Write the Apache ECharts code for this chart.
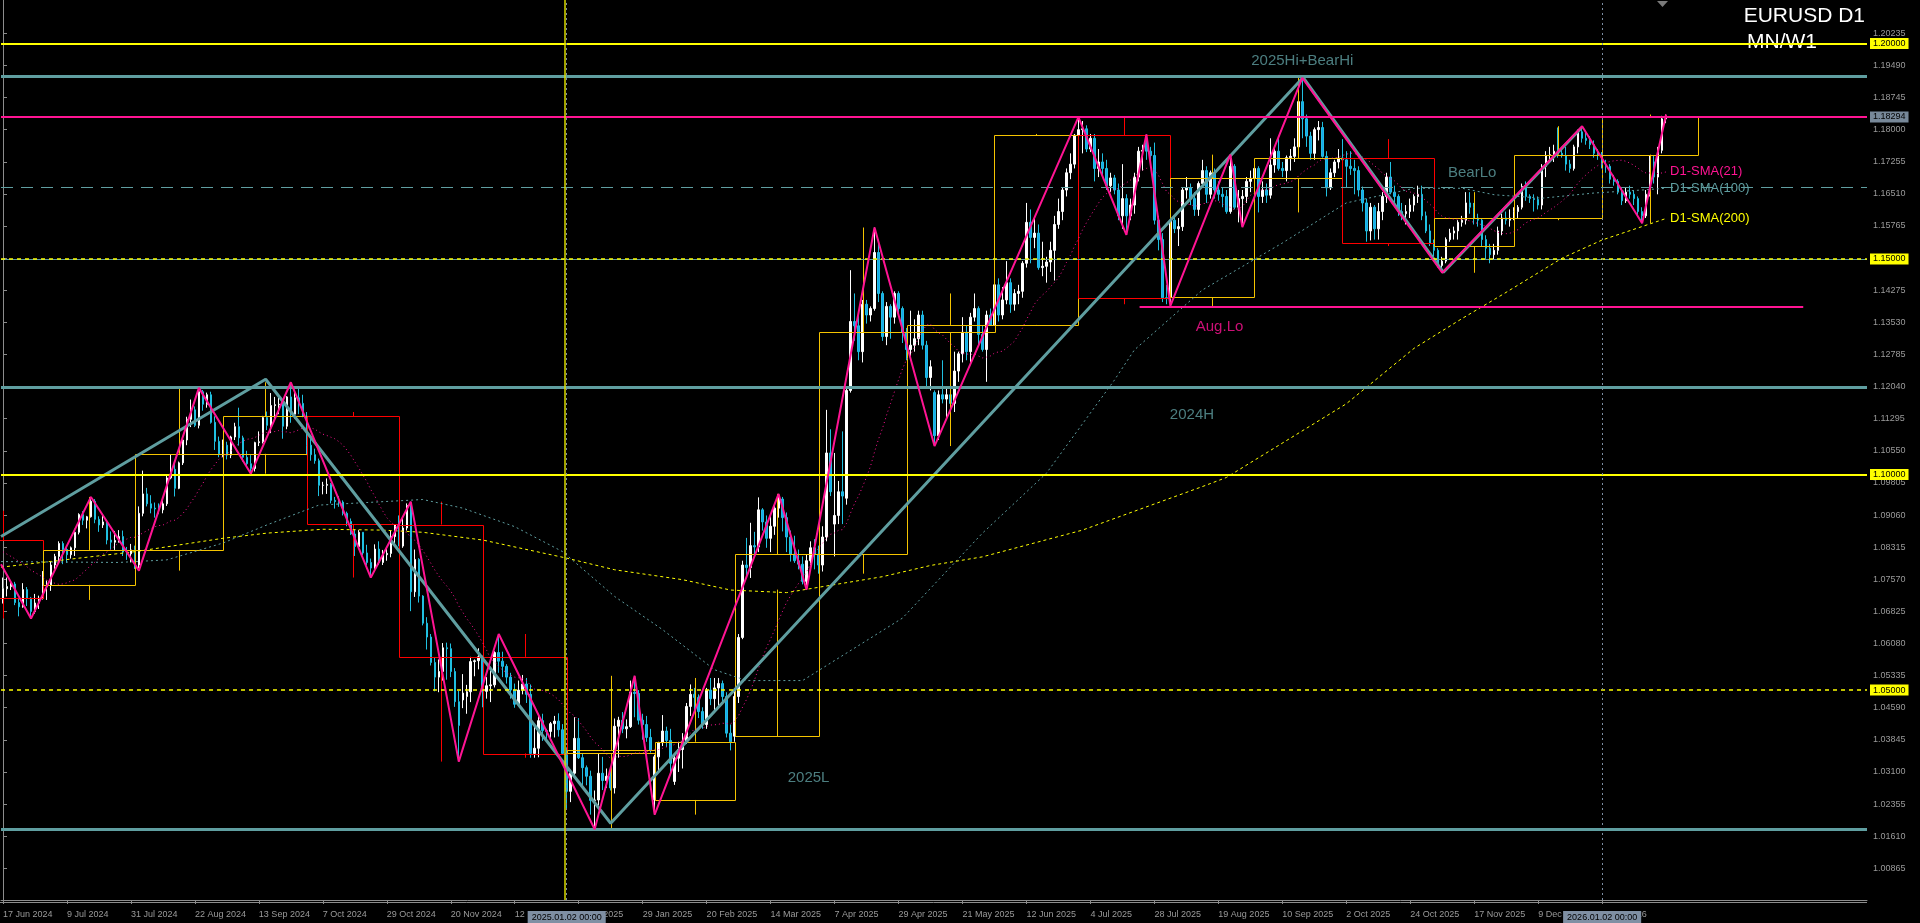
<!DOCTYPE html>
<html><head><meta charset="utf-8">
<script src="https://cdn.jsdelivr.net/npm/echarts@6/dist/echarts.min.js"></script>
<style>html,body{margin:0;padding:0;background:#000;}#c{width:1920px;height:923px;}</style>
</head><body><div id="c"></div><script>
// ---------- DATA ----------
// price-axis tick labels
const yTicks = [1.00865,1.01610,1.02355,1.03100,1.03845,1.04590,1.05335,1.06080,1.06825,1.07570,1.08315,1.09060,1.09805,1.10550,1.11295,1.12040,1.12785,1.13530,1.14275,1.15020,1.15765,1.16510,1.17255,1.18000,1.18745,1.19490,1.20235];
// time-axis tick positions (bar index) and labels
const xTickIdx = [0,16,32,48,64,80,96,112,128,144,160,176,192,208,224,240,256,272,288,304,320,336,352,368,384,400];
const xTickLabels = ['17 Jun 2024','9 Jul 2024','31 Jul 2024','22 Aug 2024','13 Sep 2024','7 Oct 2024','29 Oct 2024','20 Nov 2024','12 Dec 2024','7 Jan 2025','29 Jan 2025','20 Feb 2025','14 Mar 2025','7 Apr 2025','29 Apr 2025','21 May 2025','12 Jun 2025','4 Jul 2025','28 Jul 2025','19 Aug 2025','10 Sep 2025','2 Oct 2025','24 Oct 2025','17 Nov 2025','9 Dec 2025','2 Jan 2026'];
// closes of the 20 days before the first visible bar (for SMA21)
const closesBefore = [1.0856,1.0855,1.0822,1.0819,1.0847,1.0857,1.0858,1.0801,1.0832,1.0848,1.0902,1.0875,1.0870,1.0893,1.0801,1.0765,1.0740,1.0815,1.0741,1.0702];
// daily bars [open, high, low, close], first bar = 17 Jun 2024
const candles = [
[1.0702,1.0761,1.0701,1.0735],[1.0735,1.0761,1.0717,1.0740],[1.0740,1.0752,1.0732,1.0746],[1.0746,1.0751,1.0697,1.0703],[1.0703,1.0713,1.0671,1.0693],
[1.0693,1.0748,1.0691,1.0733],[1.0733,1.0739,1.0695,1.0713],[1.0713,1.0716,1.0666,1.0682],[1.0682,1.0723,1.0677,1.0702],[1.0702,1.0719,1.0688,1.0713],
[1.0713,1.0776,1.0710,1.0740],[1.0740,1.0754,1.0709,1.0744],[1.0744,1.0797,1.0730,1.0790],[1.0790,1.0816,1.0781,1.0810],[1.0810,1.0845,1.0797,1.0840],
[1.0840,1.0845,1.0792,1.0826],[1.0826,1.0830,1.0795,1.0814],[1.0814,1.0833,1.0805,1.0830],[1.0830,1.0874,1.0811,1.0866],[1.0866,1.0910,1.0861,1.0907],
[1.0907,1.0915,1.0883,1.0894],[1.0894,1.0904,1.0875,1.0902],[1.0902,1.0948,1.0900,1.0938],[1.0938,1.0943,1.0887,1.0896],[1.0896,1.0903,1.0867,1.0883],
[1.0883,1.0906,1.0876,1.0890],[1.0890,1.0891,1.0838,1.0848],[1.0848,1.0868,1.0826,1.0843],[1.0843,1.0869,1.0825,1.0847],[1.0847,1.0871,1.0842,1.0856],
[1.0856,1.0870,1.0811,1.0820],[1.0820,1.0832,1.0802,1.0816],[1.0816,1.0839,1.0796,1.0825],
[1.0825,1.0835,1.0781,1.0790],[1.0790,1.0926,1.0777,1.0910],
[1.0910,1.1009,1.0903,1.0955],[1.0955,1.0969,1.0926,1.0932],[1.0932,1.0952,1.0910,1.0922],[1.0922,1.0935,1.0900,1.0920],[1.0920,1.0933,1.0908,1.0918],
[1.0918,1.0944,1.0910,1.0932],[1.0932,1.0998,1.0927,1.0992],[1.0992,1.1047,1.0989,1.1012],[1.1012,1.1030,1.0949,1.0968],[1.0968,1.1030,1.0966,1.1027],
[1.1027,1.1085,1.1022,1.1080],[1.1080,1.1134,1.1068,1.1128],[1.1128,1.1174,1.1110,1.1150],[1.1150,1.1158,1.1110,1.1114],[1.1114,1.1201,1.1107,1.1192],
[1.1192,1.1196,1.1148,1.1163],[1.1163,1.1190,1.1155,1.1185],[1.1185,1.1192,1.1118,1.1121],[1.1121,1.1135,1.1057,1.1077],[1.1077,1.1088,1.1040,1.1048],
[1.1048,1.1081,1.1040,1.1068],[1.1068,1.1076,1.1035,1.1045],[1.1045,1.1090,1.1038,1.1087],[1.1087,1.1120,1.1080,1.1111],[1.1111,1.1155,1.1067,1.1085],
[1.1085,1.1090,1.1030,1.1040],[1.1040,1.1055,1.1018,1.1025],[1.1025,1.1045,1.1002,1.1014],[1.1014,1.1076,1.1007,1.1074],[1.1074,1.1100,1.1066,1.1076],
[1.1076,1.1136,1.1072,1.1132],[1.1132,1.1146,1.1103,1.1114],[1.1114,1.1189,1.1096,1.1160],[1.1160,1.1180,1.1128,1.1162],[1.1162,1.1178,1.1140,1.1163],
[1.1163,1.1167,1.1083,1.1112],[1.1112,1.1182,1.1105,1.1180],[1.1180,1.1214,1.1120,1.1140],[1.1140,1.1190,1.1130,1.1178],[1.1178,1.1200,1.1140,1.1165],
[1.1165,1.1185,1.1133,1.1135],
[1.1135,1.1145,1.1045,1.1068],[1.1068,1.1083,1.1032,1.1046],[1.1046,1.1060,1.1025,1.1032],[1.1032,1.1037,1.0950,1.0975],
[1.0975,1.0983,1.0954,1.0975],[1.0975,1.0991,1.0955,1.0977],[1.0977,1.0980,1.0933,1.0940],[1.0940,1.0948,1.0921,1.0937],[1.0937,1.0950,1.0925,1.0936],
[1.0936,1.0940,1.0905,1.0910],[1.0910,1.0914,1.0880,1.0891],[1.0891,1.0898,1.0860,1.0862],[1.0862,1.0873,1.0811,1.0833],[1.0833,1.0871,1.0830,1.0866],
[1.0866,1.0866,1.0813,1.0818],[1.0818,1.0837,1.0790,1.0796],[1.0796,1.0805,1.0761,1.0783],[1.0783,1.0838,1.0780,1.0827],[1.0827,1.0845,1.0790,1.0796],
[1.0796,1.0825,1.0790,1.0814],[1.0814,1.0830,1.0800,1.0817],[1.0817,1.0869,1.0808,1.0856],[1.0856,1.0885,1.0840,1.0884],
[1.0884,1.0905,1.0834,1.0834],
[1.0834,1.0902,1.0830,1.0876],[1.0876,1.0933,1.0870,1.0928],[1.0928,1.0937,1.0683,1.0728],[1.0728,1.0826,1.0716,1.0803],[1.0803,1.0806,1.0703,1.0718],
[1.0718,1.0720,1.0650,1.0655],[1.0655,1.0669,1.0594,1.0623],[1.0623,1.0630,1.0557,1.0564],[1.0564,1.0575,1.0497,1.0530],[1.0530,1.0571,1.0495,1.0543],
[1.0543,1.0609,1.0522,1.0598],[1.0598,1.0610,1.0524,1.0596],[1.0596,1.0608,1.0530,1.0543],[1.0543,1.0551,1.0461,1.0473],[1.0473,1.0498,1.0334,1.0418],
[1.0477,1.0537,1.0458,1.0493],[1.0485,1.0512,1.0445,1.0496],[1.0496,1.0577,1.0472,1.0566],[1.0566,1.0571,1.0532,1.0568],[1.0568,1.0597,1.0548,1.0577],
[1.0577,1.0580,1.0460,1.0497],[1.0497,1.0530,1.0480,1.0510],[1.0510,1.0545,1.0472,1.0512],[1.0512,1.0590,1.0506,1.0587],[1.0587,1.0630,1.0540,1.0567],
[1.0567,1.0589,1.0530,1.0555],[1.0555,1.0560,1.0515,1.0530],[1.0530,1.0540,1.0480,1.0500],[1.0500,1.0515,1.0459,1.0467],[1.0467,1.0522,1.0465,1.0500],
[1.0500,1.0535,1.0490,1.0514],[1.0514,1.0528,1.0470,1.0490],[1.0490,1.0513,1.0343,1.0353],[1.0353,1.0420,1.0343,1.0365],[1.0365,1.0440,1.0344,1.0429],
[1.0429,1.0445,1.0382,1.0406],[1.0406,1.0410,1.0380,1.0404],[1.0404,1.0426,1.0386,1.0422],[1.0422,1.0440,1.0390,1.0428],
[1.0428,1.0446,1.0392,1.0408],[1.0408,1.0421,1.0352,1.0353],
[1.0353,1.0367,1.0225,1.0265],[1.0265,1.0315,1.0240,1.0307],
[1.0307,1.0437,1.0302,1.0388],[1.0388,1.0435,1.0340,1.0343],[1.0343,1.0353,1.0272,1.0320],[1.0320,1.0325,1.0279,1.0300],[1.0300,1.0313,1.0211,1.0244],
[1.0244,1.0267,1.0177,1.0245],[1.0245,1.0353,1.0232,1.0307],[1.0307,1.0345,1.0268,1.0290],[1.0290,1.0318,1.0273,1.0300],[1.0300,1.0318,1.0267,1.0273],
[1.0273,1.0434,1.0260,1.0416],[1.0416,1.0438,1.0343,1.0430],[1.0430,1.0449,1.0400,1.0410],[1.0410,1.0432,1.0388,1.0415],[1.0415,1.0522,1.0412,1.0495],
[1.0495,1.0533,1.0437,1.0492],[1.0492,1.0500,1.0420,1.0430],[1.0430,1.0445,1.0385,1.0420],[1.0420,1.0440,1.0380,1.0390],[1.0390,1.0410,1.0355,1.0360],
[1.0245,1.0350,1.0211,1.0345],[1.0345,1.0380,1.0310,1.0378],[1.0378,1.0442,1.0370,1.0405],[1.0405,1.0415,1.0368,1.0383],[1.0383,1.0410,1.0305,1.0330],
[1.0288,1.0352,1.0280,1.0342],[1.0342,1.0380,1.0310,1.0362],[1.0362,1.0400,1.0318,1.0380],[1.0380,1.0470,1.0375,1.0462],[1.0462,1.0513,1.0440,1.0490],
[1.0490,1.0505,1.0450,1.0483],[1.0483,1.0490,1.0435,1.0450],[1.0450,1.0460,1.0410,1.0420],[1.0420,1.0505,1.0410,1.0500],[1.0500,1.0528,1.0465,1.0480],
[1.0480,1.0528,1.0450,1.0505],[1.0505,1.0528,1.0460,1.0515],[1.0515,1.0522,1.0470,1.0485],[1.0485,1.0495,1.0390,1.0400],[1.0400,1.0420,1.0360,1.0380],
[1.0393,1.0498,1.0380,1.0485],[1.0485,1.0630,1.0470,1.0622],[1.0622,1.0800,1.0618,1.0790],[1.0790,1.0853,1.0762,1.0784],[1.0784,1.0888,1.0760,1.0835],
[1.0835,1.0867,1.0811,1.0832],[1.0832,1.0947,1.0820,1.0918],[1.0918,1.0922,1.0870,1.0890],[1.0890,1.0905,1.0830,1.0852],[1.0852,1.0905,1.0820,1.0880],
[1.0880,1.0930,1.0860,1.0922],[1.0922,1.0955,1.0900,1.0943],[1.0943,1.0948,1.0868,1.0900],[1.0900,1.0912,1.0820,1.0855],[1.0855,1.0870,1.0798,1.0815],
[1.0815,1.0858,1.0795,1.0800],[1.0800,1.0826,1.0780,1.0792],[1.0792,1.0810,1.0745,1.0752],[1.0752,1.0815,1.0733,1.0800],[1.0800,1.0845,1.0790,1.0830],
[1.0830,1.0850,1.0780,1.0815],
[1.0815,1.0835,1.0770,1.0790],[1.0790,1.0880,1.0775,1.0855],[1.0855,1.1150,1.0845,1.1050],[1.1050,1.1105,1.0950,1.0960],
[1.0885,1.1050,1.0810,1.0905],[1.0905,1.0985,1.0885,1.0960],[1.0960,1.1100,1.0885,1.0950],[1.0945,1.1200,1.0930,1.1195],[1.1195,1.1474,1.1190,1.1355],
[1.1355,1.1420,1.1310,1.1345],[1.1345,1.1380,1.1265,1.1285],[1.1285,1.1405,1.1260,1.1395],[1.1395,1.1405,1.1350,1.1370],[1.1370,1.1390,1.1355,1.1385],
[1.1385,1.1573,1.1380,1.1515],[1.1515,1.1545,1.1400,1.1420],[1.1420,1.1425,1.1310,1.1320],[1.1320,1.1400,1.1300,1.1390],[1.1390,1.1395,1.1315,1.1365],
[1.1365,1.1425,1.1350,1.1420],[1.1420,1.1425,1.1375,1.1385],[1.1385,1.1390,1.1305,1.1330],
[1.1330,1.1340,1.1265,1.1290],[1.1290,1.1380,1.1275,1.1300],
[1.1300,1.1360,1.1285,1.1315],[1.1315,1.1380,1.1300,1.1370],[1.1370,1.1380,1.1290,1.1300],[1.1300,1.1310,1.1200,1.1225],[1.1225,1.1265,1.1195,1.1250],
[1.1190,1.1195,1.1066,1.1090],[1.1090,1.1195,1.1080,1.1185],[1.1185,1.1265,1.1165,1.1175],[1.1175,1.1205,1.1130,1.1185],[1.1185,1.1228,1.1130,1.1165],
[1.1165,1.1285,1.1145,1.1240],[1.1240,1.1285,1.1215,1.1280],[1.1280,1.1365,1.1260,1.1330],[1.1330,1.1345,1.1265,1.1285],[1.1285,1.1375,1.1260,1.1365],
[1.1365,1.1420,1.1355,1.1385],[1.1385,1.1390,1.1300,1.1325],[1.1325,1.1345,1.1285,1.1290],[1.1290,1.1380,1.1215,1.1370],[1.1370,1.1385,1.1345,1.1347],
[1.1347,1.1455,1.1345,1.1440],[1.1440,1.1455,1.1355,1.1370],[1.1370,1.1435,1.1360,1.1405],[1.1405,1.1495,1.1395,1.1445],[1.1445,1.1455,1.1375,1.1395],
[1.1395,1.1430,1.1380,1.1420],[1.1420,1.1440,1.1395,1.1425],[1.1425,1.1495,1.1410,1.1490],[1.1490,1.1630,1.1480,1.1585],[1.1585,1.1615,1.1490,1.1550],
[1.1550,1.1595,1.1525,1.1560],[1.1560,1.1580,1.1475,1.1480],[1.1480,1.1540,1.1460,1.1483],[1.1483,1.1505,1.1445,1.1493],[1.1493,1.1540,1.1470,1.1520],
[1.1520,1.1600,1.1450,1.1580],[1.1580,1.1640,1.1570,1.1610],[1.1610,1.1665,1.1590,1.1660],[1.1660,1.1710,1.1645,1.1700],[1.1700,1.1745,1.1685,1.1720],
[1.1720,1.1790,1.1710,1.1787],
[1.1787,1.1829,1.1765,1.1800],[1.1800,1.1820,1.1745,1.1802],[1.1802,1.1810,1.1748,1.1755],[1.1755,1.1790,1.1748,1.1780],
[1.1780,1.1790,1.1680,1.1710],[1.1710,1.1755,1.1690,1.1725],[1.1725,1.1745,1.1690,1.1710],[1.1710,1.1730,1.1660,1.1670],[1.1670,1.1700,1.1655,1.1688],
[1.1688,1.1695,1.1650,1.1660],[1.1660,1.1675,1.1590,1.1600],[1.1600,1.1720,1.1570,1.1640],[1.1640,1.1650,1.1556,1.1600],[1.1600,1.1640,1.1590,1.1625],
[1.1625,1.1700,1.1605,1.1690],[1.1690,1.1760,1.1680,1.1750],[1.1750,1.1765,1.1705,1.1752],[1.1770,1.1789,1.1730,1.1750],[1.1750,1.1760,1.1715,1.1740],
[1.1740,1.1770,1.1580,1.1590],[1.1590,1.1600,1.1520,1.1545],[1.1545,1.1560,1.1400,1.1410],[1.1410,1.1440,1.1395,1.1409],
[1.1411,1.1598,1.1391,1.1590],
[1.1590,1.1598,1.1560,1.1570],[1.1570,1.1595,1.1530,1.1575],[1.1575,1.1665,1.1565,1.1660],[1.1660,1.1690,1.1640,1.1665],[1.1665,1.1675,1.1625,1.1640],
[1.1640,1.1655,1.1600,1.1615],[1.1615,1.1680,1.1600,1.1675],[1.1675,1.1730,1.1665,1.1705],[1.1705,1.1715,1.1630,1.1650],[1.1650,1.1705,1.1640,1.1700],
[1.1700,1.1710,1.1640,1.1660],[1.1660,1.1680,1.1635,1.1650],[1.1650,1.1665,1.1620,1.1645],[1.1645,1.1660,1.1605,1.1610],[1.1610,1.1742,1.1605,1.1715],
[1.1715,1.1720,1.1615,1.1620],[1.1620,1.1660,1.1585,1.1640],[1.1640,1.1660,1.1574,1.1645],[1.1645,1.1690,1.1630,1.1680],[1.1680,1.1705,1.1655,1.1687],
[1.1687,1.1720,1.1680,1.1710],[1.1710,1.1715,1.1608,1.1645],[1.1645,1.1680,1.1630,1.1660],[1.1660,1.1675,1.1630,1.1648],[1.1648,1.1780,1.1640,1.1718],
[1.1718,1.1760,1.1700,1.1750],[1.1750,1.1785,1.1705,1.1710],[1.1710,1.1725,1.1690,1.1705],[1.1705,1.1740,1.1680,1.1735],[1.1735,1.1755,1.1705,1.1738],
[1.1738,1.1780,1.1725,1.1760],[1.1760,1.1878,1.1755,1.1865],[1.1865,1.1920,1.1780,1.1825],[1.1825,1.1835,1.1760,1.1785],[1.1785,1.1795,1.1730,1.1745],
[1.1745,1.1805,1.1730,1.1800],[1.1800,1.1820,1.1775,1.1805],[1.1805,1.1818,1.1735,1.1738],[1.1738,1.1750,1.1645,1.1665],[1.1665,1.1710,1.1660,1.1700],
[1.1700,1.1730,1.1690,1.1725],[1.1725,1.1755,1.1710,1.1734],
[1.1734,1.1778,1.1710,1.1730],[1.1730,1.1750,1.1665,1.1715],[1.1715,1.1750,1.1695,1.1710],
[1.1710,1.1730,1.1650,1.1705],[1.1705,1.1715,1.1645,1.1660],[1.1660,1.1668,1.1610,1.1630],[1.1630,1.1640,1.1540,1.1565],[1.1565,1.1630,1.1543,1.1620],
[1.1620,1.1625,1.1545,1.1570],[1.1570,1.1630,1.1545,1.1610],[1.1610,1.1655,1.1590,1.1645],[1.1645,1.1700,1.1630,1.1690],[1.1690,1.1725,1.1650,1.1655],
[1.1655,1.1670,1.1630,1.1645],[1.1645,1.1650,1.1600,1.1610],[1.1610,1.1630,1.1590,1.1605],[1.1605,1.1625,1.1580,1.1610],[1.1610,1.1640,1.1595,1.1625],
[1.1625,1.1650,1.1610,1.1645],[1.1645,1.1670,1.1630,1.1650],[1.1650,1.1670,1.1590,1.1600],[1.1600,1.1610,1.1560,1.1565],[1.1565,1.1580,1.1530,1.1536],
[1.1530,1.1545,1.1505,1.1520],[1.1520,1.1525,1.1480,1.1485],[1.1485,1.1505,1.1468,1.1495],[1.1495,1.1550,1.1490,1.1545],[1.1545,1.1570,1.1540,1.1560],
[1.1560,1.1575,1.1545,1.1565],[1.1565,1.1590,1.1545,1.1585],[1.1585,1.1600,1.1575,1.1590],[1.1590,1.1655,1.1580,1.1630],[1.1630,1.1655,1.1605,1.1620],
[1.1620,1.1630,1.1580,1.1595],[1.1595,1.1605,1.1575,1.1590],[1.1590,1.1595,1.1530,1.1545],[1.1545,1.1555,1.1500,1.1525],[1.1525,1.1535,1.1490,1.1510],
[1.1510,1.1535,1.1500,1.1520],[1.1520,1.1575,1.1510,1.1565],[1.1565,1.1605,1.1555,1.1595],[1.1595,1.1610,1.1580,1.1590],[1.1590,1.1615,1.1575,1.1595],
[1.1595,1.1620,1.1590,1.1610],[1.1610,1.1625,1.1595,1.1620],[1.1620,1.1675,1.1615,1.1668],[1.1668,1.1680,1.1635,1.1645],[1.1645,1.1650,1.1630,1.1640],
[1.1640,1.1650,1.1610,1.1638],[1.1638,1.1645,1.1615,1.1625],[1.1625,1.1720,1.1615,1.1715],[1.1715,1.1750,1.1690,1.1740],[1.1740,1.1760,1.1725,1.1742],
[1.1742,1.1765,1.1725,1.1750],[1.1750,1.1805,1.1735,1.1745],[1.1745,1.1760,1.1735,1.1740],[1.1740,1.1760,1.1705,1.1720],[1.1720,1.1730,1.1700,1.1710],
[1.1710,1.1765,1.1705,1.1760],[1.1760,1.1800,1.1745,1.1795],[1.1795,1.1808,1.1770,1.1780],[1.1780,1.1795,1.1765,1.1775],
[1.1775,1.1785,1.1755,1.1765],[1.1765,1.1775,1.1735,1.1745],[1.1745,1.1755,1.1730,1.1742],
[1.1742,1.1748,1.1710,1.1718],
[1.1718,1.1730,1.1700,1.1715],[1.1715,1.1720,1.1675,1.1685],[1.1685,1.1695,1.1670,1.1680],[1.1680,1.1685,1.1650,1.1655],[1.1655,1.1665,1.1625,1.1635],
[1.1635,1.1665,1.1630,1.1655],[1.1655,1.1670,1.1640,1.1650],[1.1650,1.1660,1.1625,1.1640],[1.1640,1.1645,1.1600,1.1610],[1.1610,1.1620,1.1583,1.1600],
[1.1600,1.1660,1.1595,1.1650],[1.1650,1.1740,1.1645,1.1725],[1.1725,1.1740,1.1675,1.1690],[1.1690,1.1760,1.1650,1.1752],[1.1752,1.1832,1.1745,1.1825],
[1.1825,1.1835,1.1815,1.18294]
];
// monthly bars [startBar, endBar, open, high, low, close]
const months = [
[-10,10,1.0848,1.0916,1.0666,1.0713],[10,33,1.0744,1.0948,1.0709,1.0825],[33,55,1.0825,1.1201,1.0777,1.1048],
[55,76,1.1048,1.1214,1.1002,1.1135],[76,99,1.1135,1.1145,1.0761,1.0884],[99,120,1.0884,1.0937,1.0334,1.0577],
[120,141,1.0577,1.0630,1.0343,1.0353],[141,163,1.0353,1.0533,1.0177,1.0360],[163,183,1.0245,1.0528,1.0211,1.0380],
[183,204,1.0393,1.0955,1.0733,1.0815],[204,226,1.0815,1.1573,1.0770,1.1330],[226,248,1.1330,1.1420,1.1066,1.1347],
[248,269,1.1347,1.1790,1.1345,1.1787],[269,292,1.1787,1.1829,1.1395,1.1409],[292,313,1.1411,1.1742,1.1391,1.1687],
[313,335,1.1687,1.1920,1.1608,1.1734],[335,358,1.1734,1.1778,1.1530,1.1536],[358,378,1.1530,1.1655,1.1468,1.1595],
[378,400,1.1595,1.1808,1.1590,1.1742],[400,424,1.1742,1.1835,1.1583,1.18294]
];
// moving averages [bar, value]
const sma100 = [[-0.5,1.0798],[29,1.0796],[41,1.0802],[55,1.0841],[66,1.0883],[79,1.0929],[91,1.0935],[105,1.0942],[115,1.0922],[128,1.0879],[140,1.0821],[153,1.0717],[165,1.0640],[178,1.0547],[186,1.0522],[200,1.0522],[225,1.0667],[245,1.0864],[261,1.1003],[278,1.1219],[283,1.1289],[300,1.1428],[320,1.1537],[336,1.1630],[353,1.1664],[365,1.1664],[373,1.1649],[385,1.1641],[398,1.1653],[410,1.1660],[416,1.1664]];
const sma200 = [[-0.5,1.0785],[33,1.0821],[55,1.0852],[66,1.0864],[80,1.0873],[95,1.0871],[105,1.0866],[120,1.0848],[141,1.0806],[153,1.0779],[170,1.0756],[182,1.0732],[196,1.0726],[220,1.0763],[232,1.0789],[245,1.0809],[270,1.0871],[300,1.0972],[306,1.0993],[336,1.1164],[353,1.1293],[365,1.1362],[375,1.1417],[390,1.1502],[400,1.1544],[416,1.1594]];
// zigzags [bar, price]
const zigzagMinor = [[-0.5,1.0792],[7,1.0666],[22,1.0948],[34,1.0777],[49,1.1201],[62,1.1002],[72,1.1214],[92,1.0761],[102,1.0937],[114,1.0334],[124,1.0630],[148,1.0177],[158,1.0533],[163,1.0211],[194,1.0955],[201,1.0733],[218,1.1573],[233,1.1066],[269,1.1829],[281,1.1556],[286,1.1789],[292,1.1391],[307,1.1742],[310,1.1574],[325,1.1920],[360,1.1468],[395,1.1808],[410,1.1583],[416,1.1835]];
const zigzagMajor = [[-0.5,1.0856],[65.7,1.1221],[152,1.0191],[325.2,1.1921],[360.3,1.1469],[394.9,1.1805]];
// horizontal levels
const roundLevels = [1.20000,1.10000];
const dottedLevels = [1.15000,1.05000];
const tealLevels = [1.19238,1.12023,1.01770];
const bearLoLevel = 1.16663;
const augLo = {price:1.13886, from:284.3, to:450.3};
const lastPrice = 1.18294;
const vLineYellow = 140.5;
const yearSeps = [[141,'2025.01.02 00:00'],[400,'2026.01.02 00:00']];
// text notes [text, bar, price, color]
const notes = [['2025Hi+BearHi',325,1.19592,'#5f9ea0'],['BearLo',367.5,1.17006,'#5f9ea0'],['Aug.Lo',304.3,1.13429,'#ff1493'],['2024H',297.4,1.11381,'#5f9ea0'],['2025L',201.5,1.0297,'#5f9ea0']];

// ---------- CHART ----------
const TEAL='#5f9ea0', PINK='#ff1493', YEL='#ffff00', MUP='#f5c400', MDN='#ff0000';
const FONT='Liberation Sans';
const closes = candles.map(c=>c[3]);
const allC = closesBefore.concat(closes);
const sma21 = closes.map((_,i)=>{let s=0;for(let k=i;k<i+21;k++)s+=allC[k];return [i,s/21];});

const chart = echarts.init(document.getElementById('c'));
const priceLabel = (bg,txt)=>({show:true,position:'end',distance:3,formatter:txt,backgroundColor:bg,color:'#000',fontFamily:FONT,fontSize:9,padding:[1,3,0,3],lineHeight:10});

const hLines = [];
roundLevels.forEach(v=>hLines.push({yAxis:v,lineStyle:{color:YEL,width:2,type:'solid'},label:priceLabel(YEL,v.toFixed(5))}));
tealLevels.forEach(v=>hLines.push({yAxis:v,lineStyle:{color:TEAL,width:3,type:'solid'},label:{show:false}}));
hLines.push({yAxis:bearLoLevel,lineStyle:{color:TEAL,width:1,type:[12,8]},label:{show:false}});
dottedLevels.forEach((v,k)=>{
  if(k===0) hLines.push({yAxis:v,lineStyle:{color:TEAL,width:1,type:'solid'},label:{show:false}});
  hLines.push({yAxis:v,lineStyle:{color:YEL,width:1.5,type:[4,4]},label:priceLabel(YEL,v.toFixed(5))});
});
hLines.push({yAxis:lastPrice,lineStyle:{color:PINK,width:2,type:'solid'},label:priceLabel('#778899',lastPrice.toFixed(5))});
hLines.push([{coord:[augLo.from,augLo.price]},{coord:[augLo.to,augLo.price],lineStyle:{color:PINK,width:2,type:'solid'},label:{show:false}}]);
hLines.push({xAxis:vLineYellow,lineStyle:{color:'#d8d800',width:1.5,type:'solid'},label:{show:false}});
yearSeps.forEach(s=>hLines.push({xAxis:s[0],lineStyle:{color:'#7d8ea3',width:1,type:[2,3]},
  label:{show:true,position:'start',distance:11,formatter:s[1],backgroundColor:'#7f8fa3',color:'#000',fontFamily:FONT,fontSize:9,padding:[2,4,1,4]}}));

function renderMonth(params, api){
  const s=api.value(0), e=api.value(1), o=api.value(2), h=api.value(3), l=api.value(4), c=api.value(5);
  const cs=params.coordSys;
  const tl=api.coord([s,Math.max(o,c)]), br=api.coord([e,Math.min(o,c)]);
  const m=(s+e)/2, ph=api.coord([m,h]), pl=api.coord([m,l]);
  const x0=Math.max(tl[0],cs.x-2), x1=Math.min(br[0],cs.x+cs.width);
  const col=c>=o?MUP:MDN;
  const sn=v=>Math.round(v)+0.5;
  const ch=[{type:'rect',shape:{x:sn(x0),y:sn(tl[1]),width:Math.round(x1-x0),height:Math.max(1,Math.round(br[1]-tl[1]))},style:{fill:'none',stroke:col,lineWidth:1}}];
  if(ph[0]>=cs.x){
    ch.push({type:'line',shape:{x1:sn(ph[0]),y1:ph[1],x2:sn(ph[0]),y2:tl[1]},style:{stroke:col,lineWidth:1}});
    ch.push({type:'line',shape:{x1:sn(ph[0]),y1:br[1],x2:sn(ph[0]),y2:pl[1]},style:{stroke:col,lineWidth:1}});
  }
  return {type:'group',children:ch};
}

const option = {
  backgroundColor:'#000000',
  animation:false,
  grid:{left:0,right:53,top:0,bottom:23,containLabel:false},
  xAxis:{type:'value',min:-0.5,max:466.25,
    axisLine:{show:true,lineStyle:{color:'#8c8c8c',width:1}},
    axisTick:{show:true,length:4,lineStyle:{color:'#8c8c8c'},customValues:xTickIdx},
    axisLabel:{show:true,customValues:xTickIdx,formatter:v=>xTickLabels[xTickIdx.indexOf(Math.round(v))]||'',align:'left',margin:10,color:'#9a9a9a',fontFamily:FONT,fontSize:9},
    splitLine:{show:false}},
  yAxis:{type:'value',position:'right',min:1.001296,max:1.210075,scale:true,
    axisLine:{show:true,lineStyle:{color:'#8c8c8c',width:1}},
    axisTick:{show:true,length:4,inside:false,lineStyle:{color:'#8c8c8c'},customValues:yTicks},
    axisLabel:{show:true,customValues:yTicks,formatter:v=>v.toFixed(5),margin:6,color:'#9a9a9a',fontFamily:FONT,fontSize:9},
    splitLine:{show:false}},
  series:[
    {type:'candlestick',name:'EURUSD',data:candles.map((r,i)=>[i,r[0],r[3],r[2],r[1]]),encode:{x:0,y:[1,2,3,4]},
      barWidth:2,z:2,
      itemStyle:{color:'#ffffff',color0:'#1aa3f0',borderColor:'#ffffff',borderColor0:'#20c0e0',borderWidth:1},
      markLine:{silent:true,symbol:['none','none'],animation:false,precision:5,data:hLines}},
    {type:'custom',name:'MN',renderItem:renderMonth,data:months,encode:{x:[0,1],y:[2,3,4,5]},z:3,silent:true},
    {type:'line',name:'SMA21',data:sma21,showSymbol:false,z:3,lineStyle:{color:PINK,width:1,type:[1,3]},
      endLabel:{show:true,formatter:'D1-SMA(21)',color:PINK,fontFamily:FONT,fontSize:13,distance:4}},
    {type:'line',name:'SMA100',data:sma100,showSymbol:false,z:3,lineStyle:{color:TEAL,width:1,type:[2,3]},
      endLabel:{show:true,formatter:'D1-SMA(100)',color:TEAL,fontFamily:FONT,fontSize:13,distance:4}},
    {type:'line',name:'SMA200',data:sma200,showSymbol:false,z:3,lineStyle:{color:YEL,width:1,type:[3,3]},
      endLabel:{show:true,formatter:'D1-SMA(200)',color:YEL,fontFamily:FONT,fontSize:13,distance:4}},
    {type:'line',name:'ZZmajor',data:zigzagMajor,showSymbol:false,z:4,lineStyle:{color:TEAL,width:3}},
    {type:'line',name:'ZZminor',data:zigzagMinor,showSymbol:false,z:5,lineStyle:{color:PINK,width:2}},
    {type:'scatter',name:'notes',symbolSize:0,z:6,silent:true,
      data:notes.map(n=>({value:[n[1],n[2]],label:{show:true,position:'inside',formatter:n[0],color:n[3],fontFamily:FONT,fontSize:15}}))}
  ],
  graphic:[
    {type:'text',right:55,top:6,style:{text:'EURUSD D1',fill:'#ffffff',font:'21px "Liberation Sans"'}},
    {type:'text',left:1747,top:32,style:{text:'MN/W1',fill:'#ffffff',font:'21px "Liberation Sans"'}},
    {type:'polygon',shape:{points:[[1657,1],[1668,1],[1662.5,7]]},style:{fill:'#7a7a7a'}},
    {type:'line',shape:{x1:0,y1:902.5,x2:1867,y2:902.5},style:{stroke:'#8c8c8c',lineWidth:1}}
  ]
};
chart.setOption(option);
</script></body></html>
